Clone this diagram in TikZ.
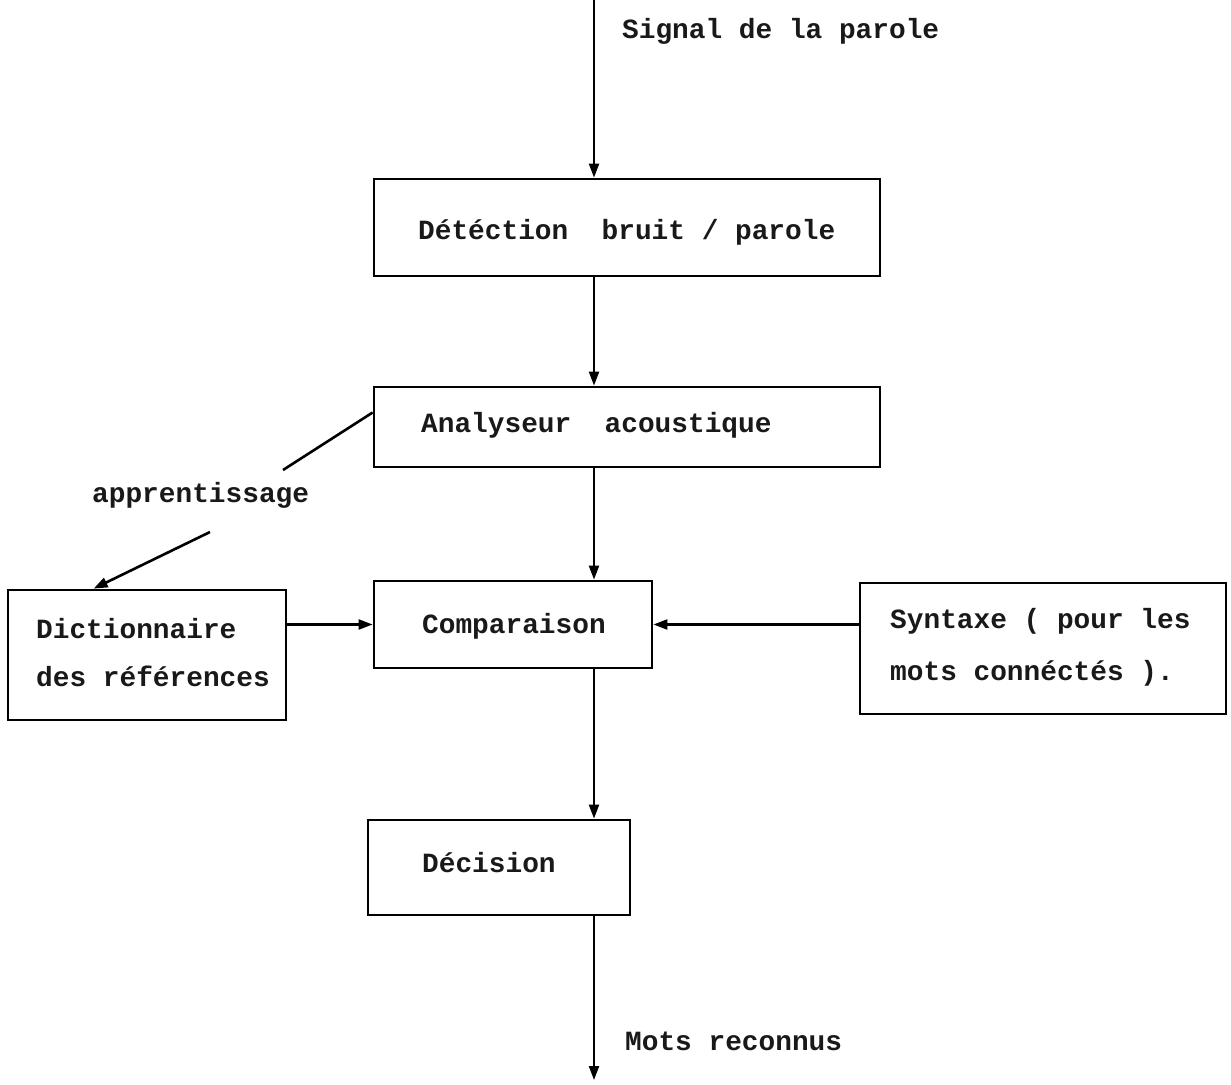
\documentclass[tikz,border=0pt]{standalone}
\usepackage{fontspec}
\newfontfamily\tw{Liberation Mono}
\usetikzlibrary{arrows.meta,calc}
\begin{document}
\begin{tikzpicture}[x=1pt,y=-1pt,
  box/.style={draw, line width=2.8pt, rectangle, inner sep=0pt},
  txt/.style={font=\tw\bfseries\fontsize{27.8}{52}\selectfont, inner sep=0pt, text=black!90},
  arr/.style={line width=2.2pt, -{Triangle[length=14pt,width=10pt]}},
  ln/.style={line width=2.6pt}]
\useasboundingbox (0,0) rectangle (1231,1084);
% boxes
\node[box, minimum width=506, minimum height=97] (b1) at (627,227.5) {};
\node[box, minimum width=506, minimum height=80] (b2) at (627,427) {};
\node[box, minimum width=278, minimum height=87] (b3) at (513,624.5) {};
\node[box, minimum width=278, minimum height=130] (dict) at (147,655) {};
\node[box, minimum width=366, minimum height=131] (syn) at (1043,648.5) {};
\node[box, minimum width=262, minimum height=95] (dec) at (499,867.5) {};
% texts
\node[txt, anchor=base west] (sig) at (622,38) {Signal de la parole};
\node[txt, anchor=base west] (t1) at (418,239) {Détéction\ \ bruit / parole};
\node[txt, anchor=base west] (t2) at (421,432) {Analyseur\ \ acoustique};
\node[txt, anchor=base west] (t3) at (422,633) {Comparaison};
\node[txt, anchor=base west] (td1) at (36,638) {Dictionnaire};
\node[txt, anchor=base west] (td2) at (36,686) {des références};
\node[txt, anchor=base west] (ts1) at (890,628) {Syntaxe ( pour les};
\node[txt, anchor=base west] (ts2) at (890,680) {mots connéctés ).};
\node[txt, anchor=base west] (tdec) at (422,872) {Décision};
\node[txt, anchor=base west] (mots) at (625,1050) {Mots reconnus};
\node[txt, anchor=base west] (app) at (92,502) {apprentissage};
% coordinates
\coordinate (top) at (594,0);
\coordinate (out) at (594,1080);
\coordinate (a1) at (283,470);
\coordinate (a2) at (210,532);
% connectors
\draw[arr] (top) -- (top |- b1.north);
\draw[arr] (b1.south -| top) -- (b2.north -| top);
\draw[arr] (b2.south -| top) -- (b3.north -| top);
\draw[arr] (b3.south -| top) -- (dec.north -| top);
\draw[arr] (dec.south -| top) -- (out);
\draw[arr] (b3.west -| dict.east) -- (b3.west);
\draw[arr] (b3.east -| syn.west) -- (b3.east);
\draw[ln] ($(b2.north west)!0.325!(b2.south west)$) -- (a1);
\draw[arr, line width=2.6pt] (a2) -- ($(dict.north west)!0.31!(dict.north east)$);
\end{tikzpicture}
\end{document}
